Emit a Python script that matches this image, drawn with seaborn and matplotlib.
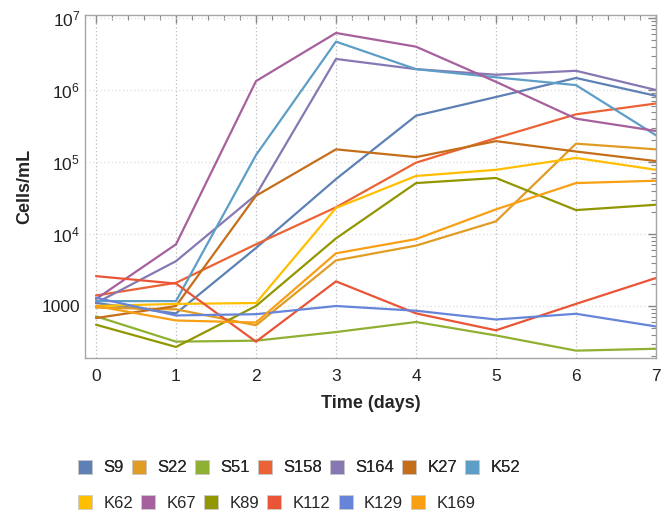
import numpy as np
import pandas as pd
import seaborn as sns
import matplotlib.pyplot as plt
from matplotlib.lines import Line2D
from matplotlib.ticker import FixedLocator, FixedFormatter, LogLocator, NullFormatter

days = [0, 1, 2, 3, 4, 5, 6, 7]

S9 = [1100, 790, 6400, 58000, 440000, 800000, 1470000, 830000]
S22 = [950, 900, 540, 4300, 6900, 15000, 180000, 150000]
S51 = [720, 320, 330, 435, 600, 390, 240, 255]
S158 = [1400, 2100, 7200, 23500, 98000, 215000, 460000, 650000]
S164 = [1100, 4200, 35000, 2700000, 1950000, 1630000, 1850000, 1000000]
K27 = [680, 1000, 34000, 150000, 117000, 195000, 140000, 103000]
K52 = [1170, 1170, 125000, 4700000, 1950000, 1500000, 1170000, 235000]
K62 = [1000, 1070, 1100, 23000, 64000, 78000, 114000, 78000]
K67 = [1250, 7200, 1330000, 6200000, 4000000, 1300000, 400000, 270000]
K89 = [550, 270, 1000, 8700, 51000, 60000, 21500, 25500]
K112 = [2600, 2050, 320, 2200, 790, 460, 1070, 2450]
K129 = [1300, 740, 770, 1000, 860, 650, 780, 520]
K169 = [1000, 630, 590, 5400, 8500, 22000, 51000, 55000]

strains = ["S9", "S22", "S51", "S158", "S164", "K27", "K52",
           "K62", "K67", "K89", "K112", "K129", "K169"]
series = [S9, S22, S51, S158, S164, K27, K52, K62, K67, K89, K112, K129, K169]
colors = ["#5E81B5", "#E19C24", "#8FB032", "#EB6235", "#8778B3", "#C56E1A", "#5D9EC7",
          "#FFBF00", "#A5609D", "#929600", "#E95536", "#6685D9", "#F89F13"]

df = pd.DataFrame({
    "day": np.tile(days, len(strains)),
    "cells": np.concatenate(series),
    "strain": np.repeat(strains, len(days)),
})

sns.set_style("white")
plt.rcParams["font.family"] = ["Liberation Sans", "DejaVu Sans"]
plt.rcParams["mathtext.fontset"] = "custom"
plt.rcParams["mathtext.rm"] = "Liberation Sans"
plt.rcParams["mathtext.it"] = "Liberation Sans:italic"

fig = plt.figure(figsize=(6.65, 5.13), dpi=100)
ax = fig.add_axes([85 / 665, 1 - 358 / 513, 571 / 665, 343 / 513])

sns.lineplot(data=df, x="day", y="cells", hue="strain", hue_order=strains,
             palette=colors, linewidth=1.6, legend=False, ax=ax)

ax.set_yscale("log")
ax.set_xlim(-0.1375, 7)
ax.set_ylim(10 ** 2.278, 10 ** 7.042)

ax.set_xticks(days)
ax.xaxis.set_minor_locator(FixedLocator(np.arange(-0.0, 7.01, 0.2)))
ax.yaxis.set_major_locator(FixedLocator([1e3, 1e4, 1e5, 1e6, 1e7]))
ax.yaxis.set_major_formatter(FixedFormatter(["1000", r"$10^4$", r"$10^5$", r"$10^6$", r"$10^7$"]))
ax.yaxis.set_minor_locator(LogLocator(base=10, subs=np.arange(2, 10)))
ax.yaxis.set_minor_formatter(NullFormatter())

ax.grid(True, which="major", axis="x", color="#BBBBBB", linestyle=(0, (1, 2)), linewidth=0.9)
ax.grid(True, which="major", axis="y", color="#DDDDDD", linestyle=(0, (1, 2)), linewidth=0.9)

for sp in ax.spines.values():
    sp.set_color("#A6A6A6")
    sp.set_linewidth(1.0)
ax.tick_params(which="both", direction="in", top=True, right=True, color="#888888",
               labelsize=12.5, labelcolor="#222222")
ax.tick_params(which="major", length=6, width=1)
ax.tick_params(which="minor", length=3.5, width=0.8)
ax.tick_params(axis="x", pad=8)

ax.set_xlabel("Time (days)", fontsize=13, fontweight="bold", labelpad=8)
ax.set_ylabel("Cells/mL", fontsize=13, fontweight="bold", labelpad=6)

# legend as two separate rows, both left-aligned
handles = [Line2D([], [], marker="s", linestyle="", markersize=10.5,
                  markerfacecolor=c, markeredgecolor="#CCCCCC", markeredgewidth=0.6)
           for c in colors]
leg_kw = dict(frameon=False, fontsize=12, handlelength=0.8, handletextpad=0.7,
              columnspacing=0.5, loc="center left", borderaxespad=0)
leg1 = fig.legend(handles[:7], strains[:7], ncol=7, bbox_to_anchor=(72 / 665, 1 - 468 / 513), **leg_kw)
fig.add_artist(leg1)
fig.legend(handles[7:], strains[7:], ncol=6, bbox_to_anchor=(72 / 665, 1 - 503 / 513), **leg_kw)

fig.savefig("out.png", dpi=100)
